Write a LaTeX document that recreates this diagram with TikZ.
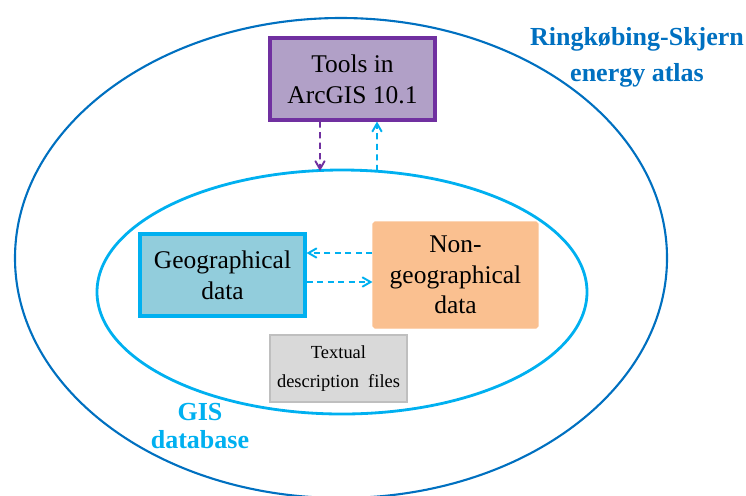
\documentclass[tikz,border=0pt]{standalone}
\usepackage{fontspec}
\setmainfont{Liberation Serif}
\usepackage{tikz}
\usetikzlibrary{arrows}

\definecolor{atlasblue}{HTML}{0070C0}
\definecolor{gisblue}{HTML}{00B0F0}
\definecolor{toolpurple}{HTML}{7030A0}
\definecolor{toolfill}{HTML}{B1A0C7}
\definecolor{geofill}{HTML}{92CDDC}
\definecolor{nongeofill}{HTML}{FAC090}
\definecolor{textfill}{HTML}{D9D9D9}
\definecolor{textdraw}{HTML}{BFBFBF}

\begin{document}
\begin{tikzpicture}[x=0.02cm,y=-0.02cm,>=angle 60,semithick]
\tikzstyle{box}=[draw,inner sep=2pt,align=center,minimum width=3.3cm,
                 font=\fontsize{14.5pt}{17.5pt}\selectfont]
\tikzstyle{link}=[->,line width=1.1pt,dash pattern=on 3.5pt off 2.5pt]
\tikzstyle{label}=[align=center,font=\fontsize{14.8pt}{20.5pt}\selectfont\bfseries]

        \useasboundingbox (0,0) rectangle (746,495);

        % the two sets
        \draw[atlasblue,line width=1.2pt] (341,258) ellipse [x radius=326, y radius=240];
        \draw[gisblue,line width=1.6pt]   (342,292) ellipse [x radius=245, y radius=122];

        \node[label,text=atlasblue]                 (atlas)  at (637,57)   {Ringkøbing-Skjern\\energy atlas};
        \node[label,text=gisblue,font=\fontsize{14.8pt}{16pt}\selectfont\bfseries]
                                                    (gis)    at (200,426)  {GIS\\database};

        \node[box,minimum height=1.64cm,draw=toolpurple,fill=toolfill,line width=1.8pt]
                                                    (tools)  at (352.5,79) {Tools in\\ArcGIS 10.1};
        \node[box,minimum height=1.64cm,draw=gisblue,fill=geofill,line width=1.8pt]
                                                    (geo)    at (222.5,275) {Geographical\\data};
        \node[box,minimum height=2.12cm,draw=nongeofill,fill=nongeofill,rounded corners=1pt]
                                                    (nongeo) at (455.5,275) {Non-\\geographical\\data};
        \node[box,minimum width=2.74cm,minimum height=1.34cm,draw=textdraw,fill=textfill,line width=1.1pt,
              font=\fontsize{10.5pt}{17pt}\selectfont]
                                                    (files)  at (338.5,368.5) {Textual\\description~~files};

        \coordinate (gisin)  at (320,171);
        \coordinate (gisout) at (377,171);

        \path[link,toolpurple]
        ([xshift=-0.65cm]tools.south) edge (gisin)
        ; %end path
        \path[link,gisblue]
        (gisout)                        edge ([xshift=0.49cm]tools.south)
        ([yshift=0.44cm]nongeo.west)    edge ([yshift=0.44cm]geo.east)
        ([yshift=-0.14cm]geo.east)      edge ([yshift=-0.14cm]nongeo.west)
        ; %end path

\end{tikzpicture}
\end{document}
